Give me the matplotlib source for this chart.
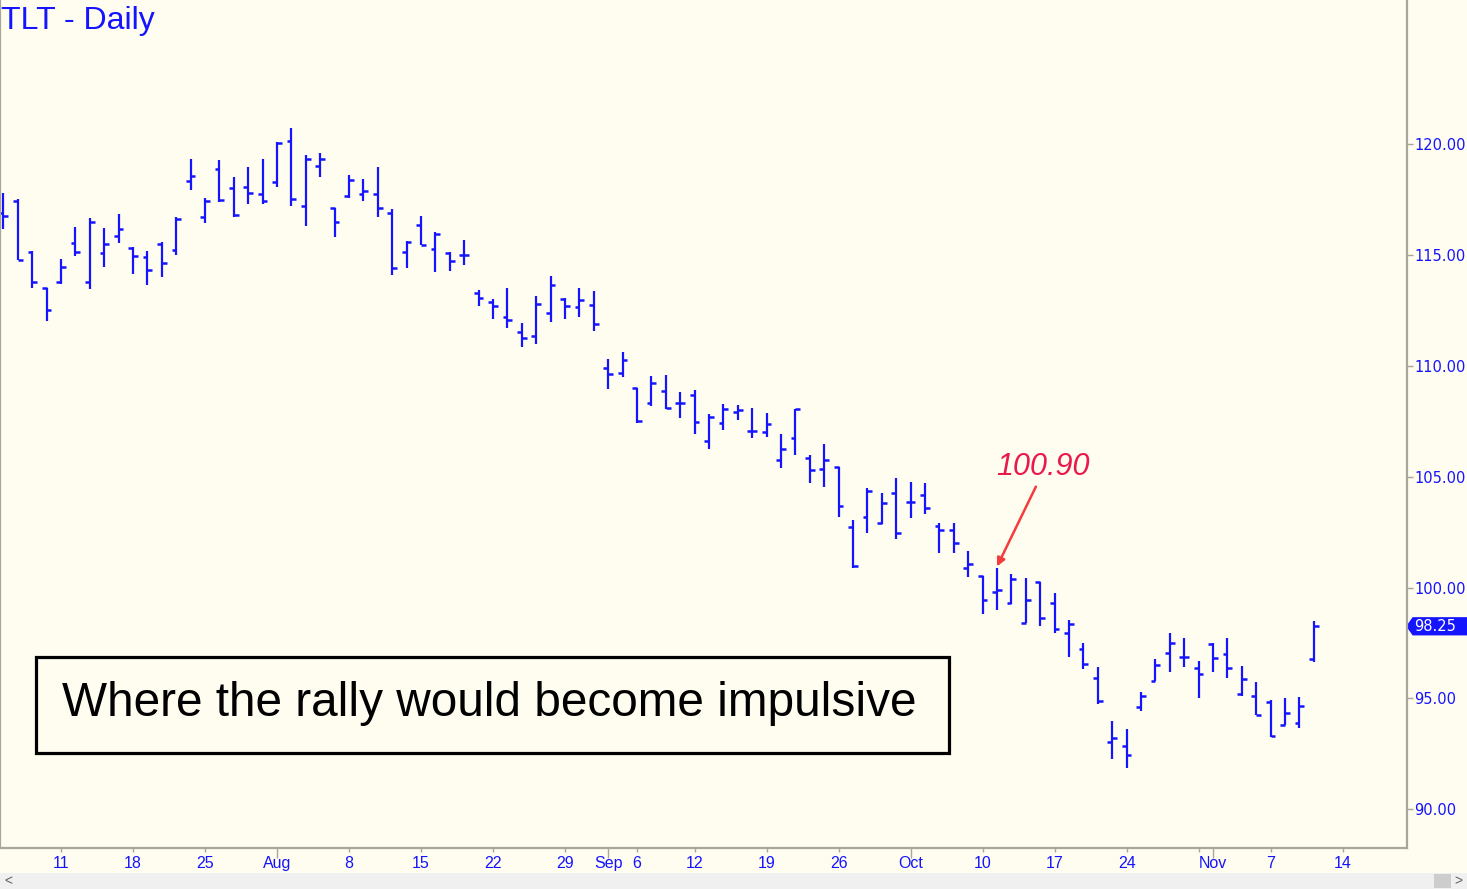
#!/usr/bin/env python3
"""TLT daily OHLC bar chart with annotation."""

import matplotlib
matplotlib.use('Agg')
import matplotlib.pyplot as plt
from matplotlib.patches import Rectangle, Polygon
import numpy as np

# daily OHLC, Jul 5 .. Nov 10 (trading days)
opens = [116.90, 117.44, 115.14, 113.49, 113.78, 115.53, 113.79, 115.10, 115.85, 115.31,
         114.92, 115.50, 115.21, 118.32, 116.72, 118.87, 118.03, 118.06, 117.74, 118.27,
         120.14, 117.19, 118.99, 117.11, 117.64, 117.74, 117.74, 116.89, 115.13, 116.35,
         115.28, 115.10, 114.98, 113.29, 112.87, 112.21, 111.53, 111.35, 112.36, 113.01,
         112.65, 112.74, 109.90, 109.68, 108.98, 108.33, 108.86, 108.33, 108.68, 106.60,
         107.40, 107.90, 107.05, 107.00, 105.73, 106.74, 105.82, 105.35, 105.42, 102.71,
         103.18, 102.92, 104.27, 103.87, 104.18, 102.77, 102.59, 100.86, 100.51, 99.79,
         99.28, 98.38, 100.23, 99.31, 97.97, 97.22, 95.94, 93.04, 92.84, 94.59,
         95.79, 97.06, 96.88, 96.38, 97.45, 96.98, 95.18, 95.12, 94.84, 93.82,
         93.87, 96.77]
highs = [117.80, 117.53, 115.17, 113.52, 114.84, 116.27, 116.68, 116.20, 116.84, 115.37,
         115.19, 115.58, 116.72, 119.32, 117.58, 119.28, 118.50, 118.95, 119.35, 120.08,
         120.72, 119.52, 119.59, 117.14, 118.59, 118.41, 118.95, 117.08, 115.61, 116.77,
         116.04, 115.14, 115.67, 113.41, 113.00, 113.53, 111.91, 113.14, 114.05, 113.07,
         113.53, 113.38, 110.29, 110.62, 109.01, 109.52, 109.57, 108.84, 108.93, 107.81,
         108.27, 108.24, 108.09, 107.88, 106.91, 108.06, 105.96, 106.47, 105.44, 103.04,
         104.47, 104.27, 104.92, 104.74, 104.70, 102.89, 102.89, 101.66, 100.53, 100.90,
         100.59, 100.45, 100.23, 99.73, 98.53, 97.48, 96.42, 93.99, 93.64, 95.30,
         96.76, 97.97, 97.70, 96.69, 97.48, 97.70, 96.45, 95.72, 94.92, 95.03,
         95.07, 98.50]
lows = [116.15, 114.77, 113.49, 112.03, 113.69, 114.95, 113.45, 114.44, 115.55, 114.14,
        113.64, 114.01, 114.98, 117.94, 116.42, 117.40, 116.69, 117.28, 117.28, 118.05,
        117.23, 116.30, 118.50, 115.82, 117.55, 117.43, 116.71, 114.08, 114.39, 115.43,
        114.24, 114.29, 114.56, 112.71, 112.09, 111.70, 110.83, 110.98, 111.98, 112.09,
        112.18, 111.57, 108.94, 109.48, 107.42, 108.20, 108.06, 107.63, 106.91, 106.23,
        107.10, 107.55, 106.75, 106.80, 105.37, 105.97, 104.70, 104.54, 103.19, 100.89,
        102.47, 102.85, 102.21, 103.12, 103.31, 101.57, 101.54, 100.46, 98.80, 98.98,
        99.24, 98.38, 98.26, 97.93, 96.85, 96.31, 94.73, 92.25, 91.84, 94.42,
        95.79, 96.20, 96.40, 95.03, 96.20, 95.94, 95.10, 94.24, 93.27, 93.79,
        93.67, 96.63]
closes = [116.77, 114.77, 113.76, 112.50, 114.45, 115.13, 116.47, 115.49, 116.15, 114.95,
          114.33, 114.62, 116.62, 118.56, 117.42, 117.47, 116.81, 117.79, 117.44, 120.03,
          117.51, 119.32, 119.31, 116.47, 118.38, 117.89, 117.11, 114.42, 115.57, 115.46,
          115.95, 114.74, 114.98, 113.04, 112.69, 112.06, 111.24, 112.80, 113.65, 112.69,
          112.98, 111.89, 109.61, 110.24, 107.51, 109.22, 108.09, 108.33, 107.45, 107.70,
          108.05, 107.99, 107.07, 107.37, 106.24, 108.06, 105.30, 105.73, 103.68, 100.98,
          104.35, 103.81, 102.47, 103.87, 103.57, 102.59, 101.99, 101.04, 99.43, 99.87,
          100.38, 99.43, 98.61, 98.11, 98.35, 96.55, 94.87, 93.19, 92.44, 95.12,
          96.50, 97.51, 96.85, 96.12, 96.80, 96.38, 95.86, 94.24, 93.30, 94.32,
          94.64, 98.25]

# date axis (trading-day index -> label)
tick_pos = [4, 9, 14, 19, 24, 29, 34, 39, 42, 44, 48, 53, 58, 63, 68, 73, 78, 83, 84, 88, 93]
tick_labels = ['11', '18', '25', 'Aug', '8', '15', '22', '29', 'Sep', '6', '12', '19',
               '26', 'Oct', '10', '17', '24', '', 'Nov', '7', '14']
price_ticks = [90, 95, 100, 105, 110, 115, 120]

peak_idx = 69
peak_label = '100.90'
note = 'Where the rally would become impulsive'

BG = '#fffcf0'
BLUE = '#1414ff'
GRAY = '#a9a59c'
W, H = 1467, 889

plt.rcParams['font.family'] = ['Liberation Sans', 'DejaVu Sans']

fig = plt.figure(figsize=(W / 100, H / 100), dpi=100, facecolor=BG)
ax = fig.add_axes([0.0, 41 / H, 1407 / W, 1 - 41 / H])
ax.set_facecolor(BG)

x = np.arange(len(closes))
tick = 0.33
ax.vlines(x, lows, highs, color=BLUE, lw=1.6)
ax.hlines(opens, x - tick, x, color=BLUE, lw=1.8)
ax.hlines(closes, x, x + tick, color=BLUE, lw=1.8)

ax.set_xlim(-0.24, 97.47)
ax.set_ylim(88.25, 126.5)

# axes styling
ax.spines['top'].set_visible(False)
for side in ['left', 'right', 'bottom']:
    ax.spines[side].set_color(GRAY)
    ax.spines[side].set_linewidth(1.6)

ax.yaxis.tick_right()
ax.set_yticks(price_ticks)
ax.set_yticklabels([f'{p:.2f}' for p in price_ticks])
ax.tick_params(axis='y', colors=GRAY, labelcolor=BLUE, labelsize=10.5,
               length=4, width=1, pad=1)
for lbl in ax.get_yticklabels():
    lbl.set_fontfamily('DejaVu Sans')

ax.set_xticks(tick_pos)
ax.set_xticklabels(tick_labels)
ax.tick_params(axis='x', colors=GRAY, labelcolor=BLUE, labelsize=11.5,
               length=3, width=1, pad=3)
for t, lab in zip(ax.xaxis.get_major_ticks(), tick_labels):
    if lab in ('Aug', 'Sep', 'Oct', 'Nov'):
        t.tick1line.set_markersize(7)

# last price flag
c = closes[-1]
hh = 0.38
px = 1 / 1407
flag = Polygon([(1.0, c), (1 + 6 * px, c + hh), (1 + 60 * px, c + hh),
                (1 + 60 * px, c - hh), (1 + 6 * px, c - hh)],
               closed=True, transform=ax.get_yaxis_transform(),
               facecolor=BLUE, edgecolor=BLUE, clip_on=False)
ax.add_patch(flag)
ax.text(1 + 7 * px, c, f'{c:.2f}', transform=ax.get_yaxis_transform(),
        color='white', fontsize=10.5, va='center', ha='left',
        family='DejaVu Sans', clip_on=False)

# title
ax.text(0.001, 0.993, 'TLT - Daily', transform=ax.transAxes, color=BLUE,
        fontsize=23, va='top', ha='left')

# annotation
ax.text(72.2, 105.43, peak_label, color='#e8194b', fontsize=22, style='italic',
        ha='center', va='center')
ax.annotate('', xy=(peak_idx, highs[peak_idx] + 0.05), xytext=(71.7, 104.55),
            arrowprops=dict(arrowstyle='-|>', color='#f53c3c', lw=1.8,
                            mutation_scale=12, shrinkA=0, shrinkB=0))

# note box
fig.add_artist(Rectangle((36 / W, 1 - 753 / H), 913 / W, 96 / H, transform=fig.transFigure,
                         fill=False, edgecolor='black', lw=2.3))
fig.text(62 / W, 1 - 704 / H, note, fontsize=34.4, color='black', va='center', ha='left')

# scrollbar strip at the bottom
fig.add_artist(Rectangle((0, 0), 1, 16 / H, transform=fig.transFigure,
                         facecolor='#f0f0f0', edgecolor='none'))
fig.add_artist(Rectangle((1434 / W, 1 / H), 17 / W, 14 / H, transform=fig.transFigure,
                         facecolor='#cdcdcd', edgecolor='none'))
fig.text(4 / W, 8 / H, '<', fontsize=10, color='#606060', va='center', ha='left')
fig.text(1462 / W, 8 / H, '>', fontsize=10, color='#606060', va='center', ha='right')

fig.savefig('out.png', dpi=100, facecolor=BG)
print("Saved out.png")
